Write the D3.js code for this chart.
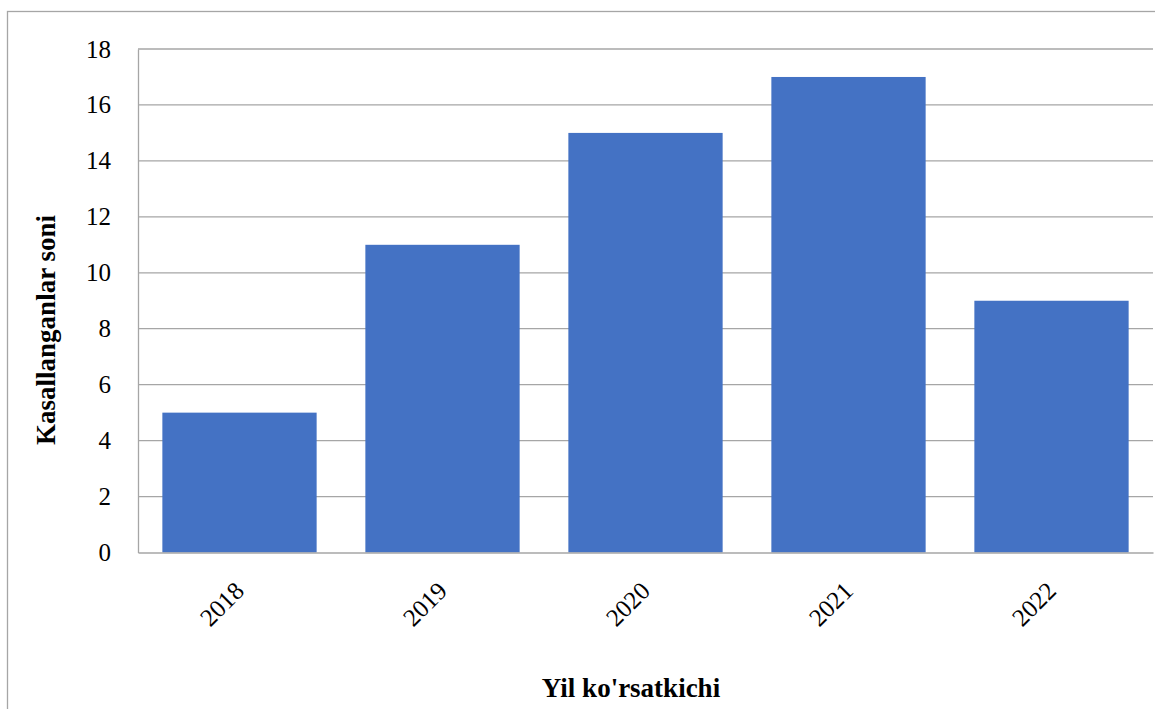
<!DOCTYPE html>
<html>
<head>
<meta charset="utf-8">
<script src="https://cdn.jsdelivr.net/npm/d3@7"></script>
<style>
  html, body { margin: 0; padding: 0; background: #fff; }
  svg { display: block; }
  svg text { font-family: "Liberation Serif", "Times New Roman", serif !important; fill: #000; }
</style>
</head>
<body>
<script>
// Chart data
const years = ["2018", "2019", "2020", "2021", "2022"];
const cases = [5, 11, 15, 17, 9];
const yTicks = [0, 2, 4, 6, 8, 10, 12, 14, 16, 18];
const xTitle = "Yil ko'rsatkichi";
const yTitle = "Kasallanganlar soni";

const W = 1155, H = 709;
const plot = { left: 138, right: 1153, top: 49, bottom: 552.5 };
const serif = "'Liberation Serif', 'Times New Roman', serif";

const svg = d3.select("body").append("svg")
  .attr("width", W).attr("height", H);

// outer chart frame
svg.append("rect")
  .attr("x", 7.5).attr("y", 11.5)
  .attr("width", 1300).attr("height", 900)
  .attr("fill", "none").attr("stroke", "#a6a6a6").attr("stroke-width", 1.3);

const x = d3.scaleBand()
  .domain(years)
  .range([plot.left, plot.right])
  .paddingInner(0.24)
  .paddingOuter(0.12);

const y = d3.scaleLinear()
  .domain([0, 18])
  .range([plot.bottom, plot.top]);

// horizontal gridlines
svg.append("g")
  .selectAll("line")
  .data(yTicks.filter(d => d > 0))
  .join("line")
  .attr("x1", plot.left).attr("x2", plot.right)
  .attr("y1", d => y(d)).attr("y2", d => y(d))
  .attr("stroke", "#a6a6a6").attr("stroke-width", 1.3);

// bars
svg.append("g")
  .selectAll("rect")
  .data(years.map((yr, i) => ({ yr, v: cases[i] })))
  .join("rect")
  .attr("x", d => x(d.yr))
  .attr("width", x.bandwidth())
  .attr("y", d => y(d.v))
  .attr("height", d => y(0) - y(d.v))
  .attr("fill", "#4472c4");

// y axis
const yAxis = svg.append("g")
  .attr("transform", `translate(${plot.left},0)`)
  .call(d3.axisLeft(y).tickValues(yTicks).tickSize(0).tickPadding(27));
yAxis.attr("font-family", null).attr("font-size", null);
yAxis.select(".domain").attr("stroke", "#a6a6a6").attr("stroke-width", 1.3);
yAxis.selectAll("text")
  .style("font-family", serif)
  .style("font-size", "25px")
  .attr("fill", "#000");

// x axis
const xAxis = svg.append("g")
  .attr("transform", `translate(0,${plot.bottom})`)
  .call(d3.axisBottom(x).tickSize(0));
xAxis.attr("font-family", null).attr("font-size", null);
xAxis.select(".domain").attr("stroke", "#a6a6a6").attr("stroke-width", 1.3);
xAxis.selectAll(".tick text")
  .style("font-family", serif)
  .style("font-size", "25px")
  .attr("fill", "#000")
  .attr("text-anchor", "end")
  .attr("dy", null)
  .attr("y", null)
  .attr("transform", "translate(6,40) rotate(-45)");

// axis titles
svg.append("text")
  .attr("x", 631).attr("y", 697)
  .attr("text-anchor", "middle")
  .style("font-family", serif)
  .style("font-size", "27px")
  .style("font-weight", "bold")
  .text(xTitle);

svg.append("text")
  .attr("transform", "translate(55,330) rotate(-90)")
  .attr("text-anchor", "middle")
  .style("font-family", serif)
  .style("font-size", "27px")
  .style("font-weight", "bold")
  .text(yTitle);
</script>
</body>
</html>
